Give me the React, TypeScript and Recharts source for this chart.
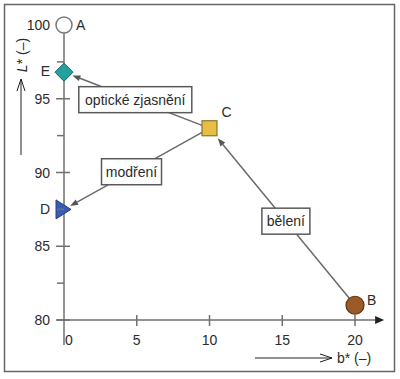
import React from 'react';
import { ScatterChart, Scatter, XAxis, YAxis, ReferenceLine } from 'recharts';

// body poznámky: bodové hodnoty v prostoru b* / L*
const pointNames = ['A', 'B', 'C', 'D', 'E'];
const bValues = [0, 20, 10, 0, 0];
const lValues = [100, 81, 93, 87.5, 96.8];

const xTicks = [0, 5, 10, 15, 20];
const yTicks = [80, 82.5, 85, 87.5, 90, 92.5, 95, 97.5, 100];

const arrowFrom = ['B', 'C', 'C'];
const arrowTo = ['C', 'E', 'D'];
const arrowLabels = ['bělení', 'optické zjasnění', 'modření'];

const FONT = '"Liberation Sans", Arial, Helvetica, sans-serif';
const AXIS = '#707070';
const INK = '#2b2b2b';

// vzhled značek a popisků
const markerStyle: Record<string, { dx: number; dy: number; anchor: 'start' | 'end' }> = {
  A: { dx: 12, dy: 5, anchor: 'start' },
  B: { dx: 12, dy: 0, anchor: 'start' },
  C: { dx: 12, dy: -11, anchor: 'start' },
  D: { dx: -14, dy: 5, anchor: 'end' },
  E: { dx: -14, dy: 4, anchor: 'end' },
};

const arrowStyle = [
  { t: 0.475, gapStart: 9, gapEnd: 13, boxW: 48 },
  { t: 0.51, gapStart: 8, gapEnd: 9, boxW: 113 },
  { t: 0.536, gapStart: 8, gapEnd: 7, boxW: 60 },
];

const points = pointNames.map((name, i) => ({ name, b: bValues[i], l: lValues[i] }));
const byName = (n: string) => points.find(p => p.name === n)!;

const Marker = (props: any) => {
  const { cx, cy, payload } = props;
  const name = payload.name;
  const s = markerStyle[name];
  let shape: React.ReactNode = null;
  if (name === 'A') shape = <circle cx={cx} cy={cy} r={8} fill="#fff" stroke="#7a7a7a" strokeWidth={1.5} />;
  if (name === 'B') shape = <circle cx={cx} cy={cy} r={9} fill="#9b5a26" stroke="#5c3414" strokeWidth={1.2} />;
  if (name === 'C') shape = <rect x={cx - 7.5} y={cy - 7.5} width={15} height={15} fill="#e8bf45" stroke="#8c7430" strokeWidth={1.2} />;
  if (name === 'D') shape = <polygon points={`${cx - 8},${cy - 9.5} ${cx - 8},${cy + 9.5} ${cx + 7},${cy}`} fill="#3a5bb2" stroke="#27407f" strokeWidth={1} />;
  if (name === 'E') shape = <polygon points={`${cx},${cy - 9} ${cx + 9},${cy} ${cx},${cy + 9} ${cx - 9},${cy}`} fill="#23a1a1" stroke="#17625f" strokeWidth={1} />;
  return (
    <g>
      {shape}
      <text x={cx + s.dx} y={cy + s.dy} textAnchor={s.anchor} fontSize={14} fontFamily={FONT} fill={INK}>{name}</text>
    </g>
  );
};

const makeArrow = (i: number) => (props: any) => {
  const { x1, y1, x2, y2 } = props;
  const st = arrowStyle[i];
  const dx = x2 - x1, dy = y2 - y1;
  const len = Math.hypot(dx, dy);
  const ux = dx / len, uy = dy / len;
  const sx = x1 + ux * st.gapStart, sy = y1 + uy * st.gapStart;
  const ex = x2 - ux * st.gapEnd, ey = y2 - uy * st.gapEnd;
  const hl = 8, hw = 3;
  const bx = ex - ux * hl, by = ey - uy * hl;
  const head = `${ex},${ey} ${bx - uy * hw},${by + ux * hw} ${bx + uy * hw},${by - ux * hw}`;
  const mx = x1 + dx * st.t, my = y1 + dy * st.t;
  return (
    <g>
      <line x1={sx} y1={sy} x2={bx} y2={by} stroke="#6a6a6a" strokeWidth={1.5} />
      <polygon points={head} fill="#555" />
      <rect x={mx - st.boxW / 2} y={my - 13} width={st.boxW} height={26} fill="#fff" stroke="#5a5a5a" strokeWidth={1.5} />
      <text x={mx} y={my + 5} textAnchor="middle" fontSize={14} fontFamily={FONT} fill={INK}>{arrowLabels[i]}</text>
    </g>
  );
};

const XAxisLine = (props: any) => {
  const { x1, y1, x2, y2 } = props;
  return (
    <g>
      <line x1={x1} y1={y1} x2={x2 - 6} y2={y2} stroke={AXIS} strokeWidth={1.5} />
      <polygon points={`${x2},${y2} ${x2 - 9},${y2 - 4} ${x2 - 9},${y2 + 4}`} fill="#222" />
    </g>
  );
};

const YAxisLine = (props: any) => {
  const { x1, y1, x2, y2 } = props;
  return <line x1={x1} y1={y1} x2={x2} y2={y2} stroke={AXIS} strokeWidth={1.5} />;
};

const XTick = (props: any) => {
  const { x, payload } = props;
  const v = payload.value;
  const y0 = 320;
  return (
    <g>
      {v !== 0 && <line x1={x} y1={y0 - 5} x2={x} y2={y0 + 6} stroke={AXIS} strokeWidth={1.5} />}
      <text x={v === 0 ? x + 1 : x} y={y0 + 25} textAnchor={v === 0 ? 'start' : 'middle'} fontSize={14} fontFamily={FONT} fill={INK}>{v}</text>
    </g>
  );
};

const YTick = (props: any) => {
  const { y, payload } = props;
  const v = payload.value;
  const x0 = 64;
  const major = v % 5 === 0;
  return (
    <g>
      {major && v !== 100 && <line x1={x0 - 8} y1={y} x2={x0 + 6} y2={y} stroke={AXIS} strokeWidth={1.5} />}
      {!major && <line x1={x0 - 7} y1={y} x2={x0} y2={y} stroke={AXIS} strokeWidth={1.5} />}
      {major && <text x={x0 - 14} y={y + 5} textAnchor="end" fontSize={14} fontFamily={FONT} fill={INK}>{v}</text>}
    </g>
  );
};

export default function App() {
  return (
    <div style={{ position: 'relative', width: 400, height: 379, background: '#fff' }}>
      <style>{'body{margin:0}'}</style>
      <ScatterChart width={400} height={379} margin={{ top: 25, right: 45, bottom: 29, left: 0 }}>
        <XAxis type="number" dataKey="b" domain={[0, 20]} ticks={xTicks} interval={0} axisLine={false} tickLine={false} height={30} tick={<XTick />} />
        <YAxis type="number" dataKey="l" domain={[80, 100]} ticks={yTicks} interval={0} axisLine={false} tickLine={false} width={64} tick={<YTick />} />
        <ReferenceLine ifOverflow="visible" segment={[{ x: -0.5, y: 80 }, { x: 22, y: 80 }]} shape={XAxisLine} />
        <ReferenceLine ifOverflow="visible" segment={[{ x: 0, y: 78.3 }, { x: 0, y: 100 }]} shape={YAxisLine} />
        {arrowFrom.map((f, i) => {
          const a = byName(f), b = byName(arrowTo[i]);
          return (
            <ReferenceLine key={i} ifOverflow="visible" segment={[{ x: a.b, y: a.l }, { x: b.b, y: b.l }]} shape={makeArrow(i)} />
          );
        })}
        {points.map(p => (
          <Scatter key={p.name} data={[p]} shape={Marker} isAnimationActive={false} />
        ))}
      </ScatterChart>
      <svg width={400} height={379} style={{ position: 'absolute', left: 0, top: 0, pointerEvents: 'none' }}>
        <rect x={4.5} y={4.5} width={390} height={367} fill="none" stroke="#666" strokeWidth={1.5} />
        <text transform="translate(27,55) rotate(-90)" textAnchor="middle" fontSize={14} fontFamily={FONT} fill={INK}>
          <tspan fontStyle="italic">L</tspan>* (–)
        </text>
        <line x1={21} y1={155} x2={21} y2={79} stroke="#222" strokeWidth={1} />
        <polyline points="17,91 21,79 25,91" fill="none" stroke="#222" strokeWidth={1} />
        <line x1={255} y1={358} x2={332} y2={358} stroke="#222" strokeWidth={1} />
        <polyline points="320,354 332,358 320,362" fill="none" stroke="#222" strokeWidth={1} />
        <text x={337} y={363} fontSize={14} fontFamily={FONT} fill={INK}>b* (–)</text>
      </svg>
    </div>
  );
}
